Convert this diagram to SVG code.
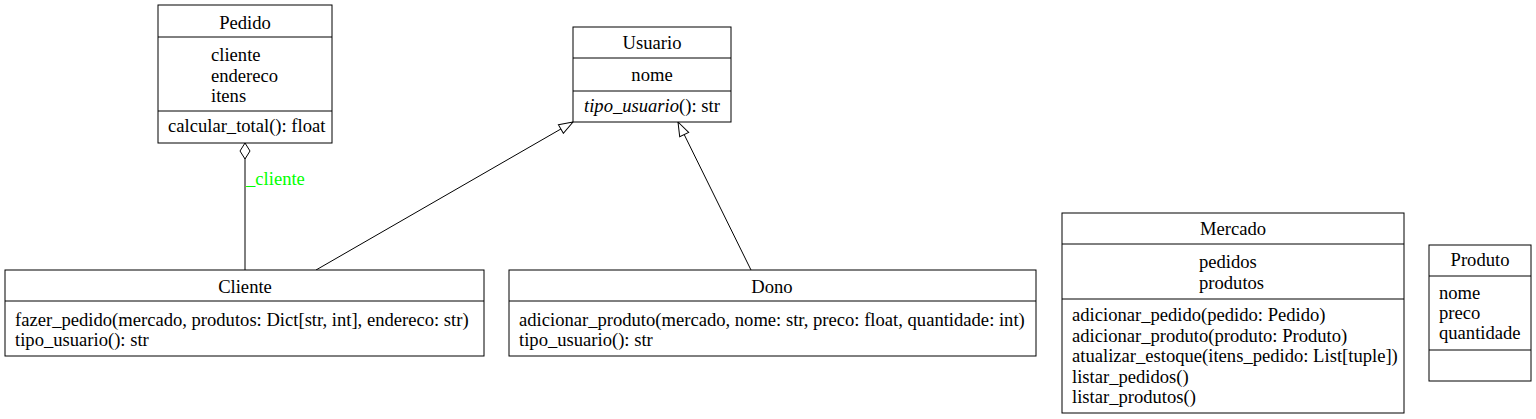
<svg xmlns="http://www.w3.org/2000/svg" width="1536" height="419" viewBox="0 0 1536 419">
<style>
rect.box{fill:#fff;stroke:#000;stroke-width:1}
line.sep{stroke:#000;stroke-width:1}
text{font-family:"Liberation Serif","Times New Roman",serif;font-size:18.6px;fill:#000}
.c{text-anchor:middle}
.edge{stroke:#000;stroke-width:1;fill:none}
</style>
<defs>
<marker id="gen" viewBox="0 0 16 12" refX="15" refY="6" markerWidth="16" markerHeight="12" markerUnits="userSpaceOnUse" orient="auto">
<path d="M1,1 L15,6 L1,11 Z" fill="#fff" stroke="#000" stroke-width="1"/>
</marker>
<marker id="agg" viewBox="0 0 20 12" refX="1" refY="6" markerWidth="20" markerHeight="12" markerUnits="userSpaceOnUse" orient="auto">
<path d="M1,6 L9,1 L17,6 L9,11 Z" fill="#fff" stroke="#000" stroke-width="1"/>
</marker>
</defs>
<rect width="1536" height="419" fill="#fff"/>
<g id="connectors">
<line class="edge" x1="245" y1="143" x2="245" y2="270" marker-start="url(#agg)"/>
<text x="246" y="185" style="fill:#00ff00">_cliente</text>
<line class="edge" x1="316" y1="270" x2="573" y2="122" marker-end="url(#gen)"/>
<line class="edge" x1="751" y1="270" x2="678" y2="122" marker-end="url(#gen)"/>
</g>
<g id="Pedido">
<rect class="box" x="158" y="5" width="174" height="138"/>
<line class="sep" x1="158" y1="37" x2="332" y2="37"/>
<line class="sep" x1="158" y1="111" x2="332" y2="111"/>
<text class="c" x="245" y="29">Pedido</text>
<text x="211" y="61">cliente</text>
<text x="211" y="82">endereco</text>
<text x="211" y="102">itens</text>
<text x="168" y="132">calcular_total(): float</text>
</g>
<g id="Usuario">
<rect class="box" x="573" y="27" width="158" height="95"/>
<line class="sep" x1="573" y1="58" x2="731" y2="58"/>
<line class="sep" x1="573" y1="91" x2="731" y2="91"/>
<text class="c" x="652" y="49">Usuario</text>
<text class="c" x="652" y="81">nome</text>
<text x="584" y="112"><tspan font-style="italic">tipo_usuario</tspan>(): str</text>
</g>
<g id="Cliente">
<rect class="box" x="5" y="270" width="479" height="86"/>
<line class="sep" x1="5" y1="301" x2="484" y2="301"/>
<text class="c" x="245" y="293">Cliente</text>
<text x="15" y="326">fazer_pedido(mercado, produtos: Dict[str, int], endereco: str)</text>
<text x="15" y="346">tipo_usuario(): str</text>
</g>
<g id="Dono">
<rect class="box" x="509" y="270" width="527" height="86"/>
<line class="sep" x1="509" y1="301" x2="1036" y2="301"/>
<text class="c" x="772" y="293">Dono</text>
<text x="519" y="326">adicionar_produto(mercado, nome: str, preco: float, quantidade: int)</text>
<text x="519" y="346">tipo_usuario(): str</text>
</g>
<g id="Mercado">
<rect class="box" x="1062" y="213" width="342" height="200"/>
<line class="sep" x1="1062" y1="244" x2="1404" y2="244"/>
<line class="sep" x1="1062" y1="299" x2="1404" y2="299"/>
<text class="c" x="1233" y="235">Mercado</text>
<text x="1199" y="268">pedidos</text>
<text x="1199" y="289">produtos</text>
<text x="1072" y="321">adicionar_pedido(pedido: Pedido)</text>
<text x="1072" y="342">adicionar_produto(produto: Produto)</text>
<text x="1072" y="362">atualizar_estoque(itens_pedido: List[tuple])</text>
<text x="1072" y="383">listar_pedidos()</text>
<text x="1072" y="403">listar_produtos()</text>
</g>
<g id="Produto">
<rect class="box" x="1429" y="245" width="102" height="136"/>
<line class="sep" x1="1429" y1="276" x2="1531" y2="276"/>
<line class="sep" x1="1429" y1="350" x2="1531" y2="350"/>
<text class="c" x="1480" y="266">Produto</text>
<text x="1439" y="299">nome</text>
<text x="1439" y="319">preco</text>
<text x="1439" y="339">quantidade</text>
</g>
</svg>
